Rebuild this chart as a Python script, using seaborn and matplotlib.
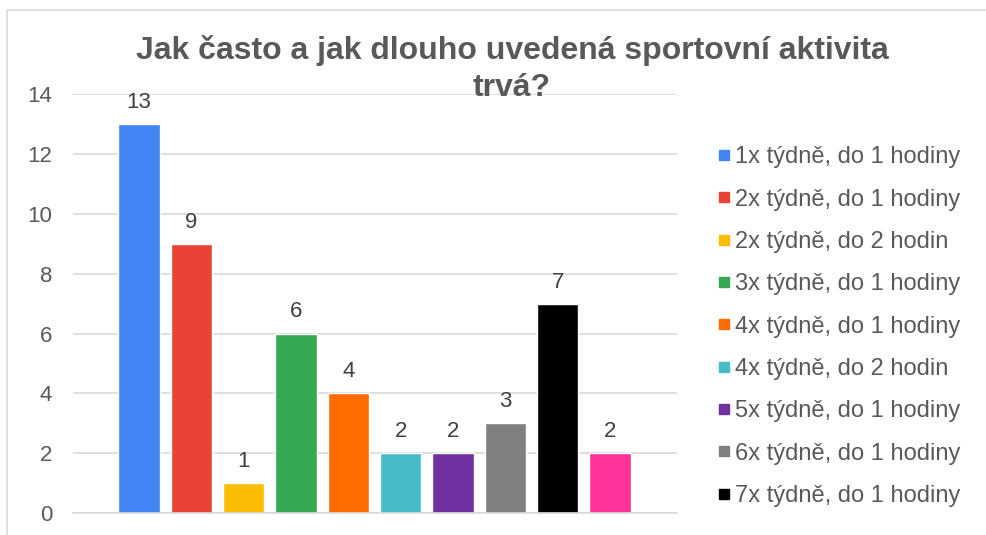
import matplotlib
matplotlib.use("Agg")
import matplotlib.pyplot as plt
from matplotlib.patches import Rectangle
import pandas as pd
import seaborn as sns

categories = [
    "1x týdně, do 1 hodiny",
    "2x týdně, do 1 hodiny",
    "2x týdně, do 2 hodin",
    "3x týdně, do 1 hodiny",
    "4x týdně, do 1 hodiny",
    "4x týdně, do 2 hodin",
    "5x týdně, do 1 hodiny",
    "6x týdně, do 1 hodiny",
    "7x týdně, do 1 hodiny",
    "7x týdně, do 2 hodin",
]
counts = [13, 9, 1, 6, 4, 2, 2, 3, 7, 2]
colors = ["#4285F4", "#EA4335", "#FBBC04", "#34A853", "#FF6D01",
          "#46BDC6", "#7030A0", "#808080", "#000000", "#FF3399"]
title_lines = ["Jak často a jak dlouho uvedená sportovní aktivita", "trvá?"]

TXT = "#595959"
GRID = "#D9D9D9"

sns.set_theme(style="white")
plt.rcParams["font.family"] = ["Liberation Sans", "DejaVu Sans"]

df = pd.DataFrame({"cat": categories, "n": counts})

fig = plt.figure(figsize=(9.87, 5.35), dpi=100)
ax = fig.add_axes([0.074, 0.041, 0.612, 0.783])

sns.barplot(data=df, x="cat", y="n", hue="cat", palette=colors,
            width=0.79, saturation=1, legend=False, ax=ax)

ax.set_ylim(0, 14)
ax.set_xlim(-1.26, len(categories) - 1 + 1.28)
ax.set_yticks(range(0, 15, 2))
ax.yaxis.grid(True, color=GRID, linewidth=1.2)
ax.set_axisbelow(True)
ax.set_xticks([])
ax.set_xlabel("")
ax.set_ylabel("")
for s in ["top", "right", "left"]:
    ax.spines[s].set_visible(False)
ax.spines["bottom"].set_color(GRID)
ax.spines["bottom"].set_linewidth(1.2)
ax.tick_params(axis="y", length=0, labelsize=16, labelcolor=TXT, pad=15)

for cont in ax.containers:
    ax.bar_label(cont, padding=8, fontsize=16, color="#404040")

# legend: only the first nine entries are visible in the original
handles = [plt.Line2D([], [], marker="s", linestyle="", markersize=7.5,
                      markerfacecolor=c, markeredgecolor=c) for c in colors[:9]]
fig.legend(handles, categories[:9], loc="upper left",
           bbox_to_anchor=(707 / 987, 1 - 137 / 535), frameon=False,
           fontsize=17, labelcolor=TXT, handlelength=0.6, handletextpad=0.2,
           labelspacing=0.86, borderaxespad=0)

# title drawn line by line (wrapped as in the original)
for line, ypix in zip(title_lines, [51, 88]):
    fig.text(512 / 987, 1 - ypix / 535, line, ha="center", va="center",
             fontsize=23, fontweight="bold", color=TXT)

fig.patches.append(Rectangle((7 / 987, -0.1), 1.2, 1 - 10 / 535 + 0.1,
                             transform=fig.transFigure, fill=False,
                             edgecolor=GRID, linewidth=1.2))

fig.savefig("out.png", dpi=100)
